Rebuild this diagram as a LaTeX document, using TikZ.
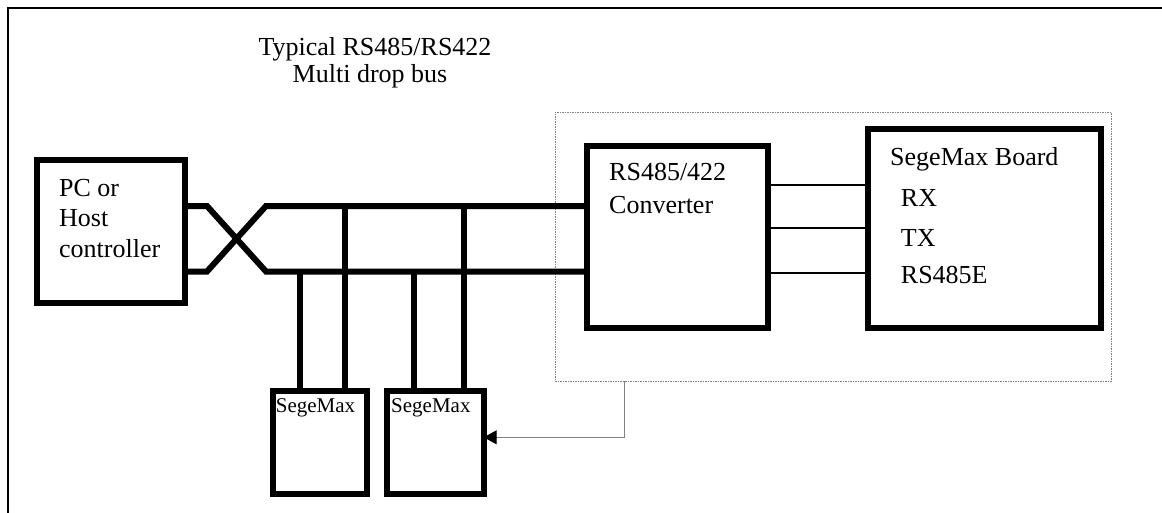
\documentclass[tikz,border=0pt]{standalone}
\usepackage{fontspec}
\setmainfont{Liberation Serif}
\usetikzlibrary{arrows.meta}
\tikzset{
  bigtxt/.style={font=\fontsize{26}{30}\selectfont, inner sep=0pt, anchor=base west},
  smalltxt/.style={font=\fontsize{21}{24}\selectfont, inner sep=0pt, anchor=base west},
  thickbox/.style={draw, line width=6pt, rectangle, inner sep=0pt, outer sep=0pt},
  wire/.style={line width=6pt, line join=miter},
  thinwire/.style={line width=2pt},
  dotframe/.style={draw=gray, line width=1pt, dash pattern=on 1.5pt off 1pt},
}
\begin{document}
\begin{tikzpicture}[x=1pt,y=-1pt]
\useasboundingbox (0,0) rectangle (1162,512);
\clip (0,0) rectangle (1162,512);
\fill[white] (0,0) rectangle (1162,512);
% outer frame
\draw[line width=2pt] (8,8) rectangle (1175,525);
% title
\node[font=\fontsize{26}{30}\selectfont, inner sep=0pt, anchor=base] (t1) at (375,55) {Typical RS485/RS422};
\node[font=\fontsize{26}{30}\selectfont, inner sep=0pt, anchor=base] (t2) at (370,82.7) {Multi drop bus};
% dotted grouping frame
\node[dotframe, rectangle, inner sep=0pt, outer sep=0pt, minimum width=556pt, minimum height=269pt] (grp) at (833,246.5) {};
% boxes
\node[thickbox, minimum width=148pt, minimum height=143.3pt] (pc) at (111,231.35) {};
\node[thickbox, minimum width=181pt, minimum height=182.5pt] (conv) at (677.5,236.75) {};
\node[thickbox, minimum width=233pt, minimum height=199pt] (board) at (984.5,228.5) {};
\node[thickbox, minimum width=94.5pt, minimum height=103pt] (sm1) at (319.75,442.5) {};
\node[thickbox, minimum width=96.7pt, minimum height=103pt] (sm2) at (435.35,442.5) {};
% texts
\node[bigtxt] (pc1) at (59,196) {PC or};
\node[bigtxt] (pc2) at (59,226.7) {Host};
\node[bigtxt] (pc3) at (59,257) {controller};
\node[bigtxt] (cv1) at (609,180) {RS485/422};
\node[bigtxt] (cv2) at (609,213) {Converter};
\node[bigtxt] (bd1) at (890,165.7) {SegeMax Board};
\node[bigtxt] (bd2) at (900.7,206.7) {RX};
\node[bigtxt] (bd3) at (900.7,246.7) {TX};
\node[bigtxt] (bd4) at (900.7,283.3) {RS485E};
\node[smalltxt] (s1) at (275.7,412.7) {SegeMax};
\node[smalltxt] (s2) at (391,412.7) {SegeMax};
% bus coordinates
\coordinate (pcT) at (pc.east |- 0,206);
\coordinate (pcB) at (pc.east |- 0,271.5);
\coordinate (xT1) at (207,206);
\coordinate (xB1) at (207,271.5);
\coordinate (xT2) at (266,206);
\coordinate (xB2) at (266,271.5);
\coordinate (cvT) at (conv.west |- 0,206);
\coordinate (cvB) at (conv.west |- 0,271.5);
\draw[wire] (pcT) -- (xT1) -- (xB2) -- (cvB);
\draw[wire] (pcB) -- (xB1) -- (xT2) -- (cvT);
% drops
\coordinate (d1) at (299.5,271.5);
\coordinate (d2) at (345,206);
\coordinate (d3) at (414,271.5);
\coordinate (d4) at (464,206);
\draw[wire] (d1) -- (d1 |- sm1.north);
\draw[wire] (d2) -- (d2 |- sm1.north);
\draw[wire] (d3) -- (d3 |- sm2.north);
\draw[wire] (d4) -- (d4 |- sm2.north);
% thin links converter -> board
\foreach \yy/\nm in {185/a,227.7/b,273.3/c}{
  \coordinate (l\nm) at (conv.east |- 0,\yy);
  \draw[thinwire] (l\nm) -- (l\nm -| board.west);
}
% arrow from group to sm2
\coordinate (ga) at (grp.south -| 624,0);
\coordinate (gb) at (624,437.3);
\draw[gray, line width=1pt, -{Triangle[length=13pt,width=14pt,color=black,fill=black]}] (ga) -- (gb) -- (gb -| sm2.east);
\end{tikzpicture}
\end{document}
